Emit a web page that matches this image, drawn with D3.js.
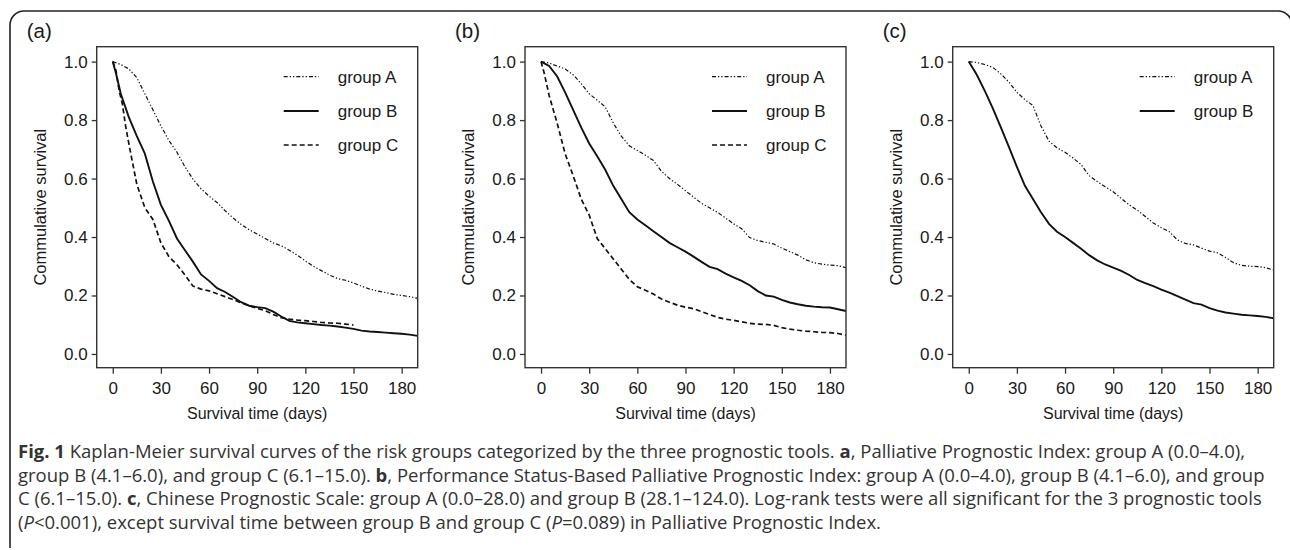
<!DOCTYPE html>
<html>
<head>
<meta charset="utf-8">
<script src="https://cdn.jsdelivr.net/npm/d3@7"></script>
<style>
  html, body { margin: 0; padding: 0; background: #fff; }
  svg { display: block; }
  .tick text { font-family: "Liberation Sans", Arial, sans-serif; font-size: 17px; fill: #1a1a1a; }
  .tick line { stroke: #333; stroke-width: 1.3; }
</style>
</head>
<body>
<div id="chart"></div>
<script>
'use strict';

// ---- data (time in days, cumulative survival) ----
const xTicks = [0, 30, 60, 90, 120, 150, 180];
const yTicks = [0.0, 0.2, 0.4, 0.6, 0.8, 1.0];
const panelLabels = ['(a)', '(b)', '(c)'];
const groupNames = ['group A', 'group B', 'group C'];

// panel (a) Palliative Prognostic Index
const aTimesA = [0, 5, 10, 15, 20, 25, 30, 35, 40, 45, 50, 55, 60, 65, 70, 75, 80, 85, 90, 95, 100, 105, 110, 115, 120, 125, 130, 135, 140, 145, 150, 155, 160, 165, 170, 175, 180, 185, 190];
const aSurvA = [1.0, 0.99, 0.975, 0.945, 0.89, 0.835, 0.78, 0.73, 0.69, 0.64, 0.598, 0.565, 0.54, 0.518, 0.49, 0.465, 0.443, 0.425, 0.41, 0.395, 0.38, 0.37, 0.355, 0.338, 0.318, 0.3, 0.285, 0.27, 0.258, 0.252, 0.243, 0.232, 0.222, 0.215, 0.21, 0.204, 0.2, 0.196, 0.19];
const aTimesB = [0, 2, 5, 10, 15, 20, 25, 30, 35, 40, 45, 50, 55, 60, 65, 70, 75, 80, 85, 90, 95, 100, 105, 110, 115, 120, 125, 130, 135, 140, 145, 150, 155, 160, 165, 170, 175, 180, 185, 190];
const aSurvB = [1.0, 0.96, 0.89, 0.81, 0.745, 0.685, 0.59, 0.51, 0.455, 0.395, 0.355, 0.315, 0.272, 0.25, 0.225, 0.212, 0.195, 0.177, 0.165, 0.16, 0.157, 0.145, 0.128, 0.113, 0.108, 0.105, 0.102, 0.099, 0.097, 0.094, 0.09, 0.086, 0.08, 0.077, 0.075, 0.073, 0.071, 0.069, 0.066, 0.062];
const aTimesC = [0, 2, 4, 6, 8, 10, 15, 20, 25, 30, 35, 40, 45, 50, 55, 60, 65, 70, 75, 80, 85, 90, 95, 100, 105, 110, 115, 120, 125, 130, 135, 140, 145, 150];
const aSurvC = [1.0, 0.97, 0.9, 0.855, 0.78, 0.72, 0.58, 0.5, 0.46, 0.38, 0.333, 0.305, 0.27, 0.232, 0.222, 0.216, 0.206, 0.196, 0.186, 0.175, 0.165, 0.156, 0.148, 0.135, 0.124, 0.119, 0.116, 0.114, 0.111, 0.108, 0.106, 0.105, 0.102, 0.099];

// panel (b) Performance Status-Based Palliative Prognostic Index
const bTimesA = [0, 5, 10, 15, 20, 25, 30, 35, 40, 45, 50, 55, 60, 65, 70, 75, 80, 85, 90, 95, 100, 105, 110, 115, 120, 125, 130, 135, 140, 145, 150, 155, 160, 165, 170, 175, 180, 185, 190];
const bSurvA = [1.0, 0.995, 0.985, 0.975, 0.955, 0.925, 0.89, 0.868, 0.845, 0.79, 0.745, 0.712, 0.696, 0.68, 0.662, 0.625, 0.6, 0.58, 0.558, 0.537, 0.515, 0.5, 0.484, 0.465, 0.445, 0.428, 0.398, 0.388, 0.382, 0.376, 0.362, 0.35, 0.338, 0.322, 0.312, 0.307, 0.304, 0.302, 0.295];
const bTimesB = [0, 5, 10, 15, 20, 25, 30, 35, 40, 45, 50, 55, 60, 65, 70, 75, 80, 85, 90, 95, 100, 105, 110, 115, 120, 125, 130, 135, 140, 145, 150, 155, 160, 165, 170, 175, 180, 185, 190];
const bSurvB = [1.0, 0.985, 0.95, 0.895, 0.835, 0.775, 0.72, 0.676, 0.63, 0.575, 0.53, 0.485, 0.46, 0.44, 0.42, 0.4, 0.38, 0.365, 0.35, 0.333, 0.315, 0.298, 0.29, 0.275, 0.262, 0.25, 0.235, 0.215, 0.2, 0.196, 0.185, 0.176, 0.17, 0.165, 0.162, 0.16, 0.159, 0.153, 0.147];
const bTimesC = [0, 2, 5, 10, 15, 20, 25, 30, 35, 40, 45, 50, 55, 60, 65, 70, 75, 80, 85, 90, 95, 100, 105, 110, 115, 120, 125, 130, 135, 140, 145, 150, 155, 160, 165, 170, 175, 180, 185, 190];
const bSurvC = [1.0, 0.96, 0.885, 0.79, 0.685, 0.61, 0.53, 0.475, 0.395, 0.36, 0.325, 0.29, 0.255, 0.23, 0.218, 0.205, 0.188, 0.177, 0.167, 0.16, 0.155, 0.145, 0.135, 0.125, 0.119, 0.115, 0.11, 0.105, 0.102, 0.101, 0.098, 0.09, 0.085, 0.081, 0.078, 0.076, 0.074, 0.073, 0.07, 0.064];

// panel (c) Chinese Prognostic Scale
const cTimesA = [0, 5, 10, 15, 20, 25, 30, 35, 40, 45, 50, 55, 60, 65, 70, 75, 80, 85, 90, 95, 100, 105, 110, 115, 120, 125, 130, 135, 140, 145, 150, 155, 160, 165, 170, 175, 180, 185, 190];
const cSurvA = [1.0, 0.997, 0.99, 0.98, 0.958, 0.93, 0.895, 0.87, 0.85, 0.78, 0.728, 0.705, 0.69, 0.67, 0.648, 0.61, 0.59, 0.572, 0.555, 0.532, 0.51, 0.492, 0.47, 0.448, 0.432, 0.418, 0.39, 0.378, 0.373, 0.362, 0.352, 0.346, 0.33, 0.312, 0.303, 0.3, 0.299, 0.295, 0.287];
const cTimesB = [0, 5, 10, 15, 20, 25, 30, 35, 40, 45, 50, 55, 60, 65, 70, 75, 80, 85, 90, 95, 100, 105, 110, 115, 120, 125, 130, 135, 140, 145, 150, 155, 160, 165, 170, 175, 180, 185, 190];
const cSurvB = [1.0, 0.955, 0.9, 0.84, 0.775, 0.708, 0.64, 0.575, 0.53, 0.485, 0.445, 0.418, 0.4, 0.38, 0.36, 0.338, 0.32, 0.306, 0.295, 0.284, 0.27, 0.253, 0.242, 0.232, 0.22, 0.21, 0.198, 0.186, 0.174, 0.169, 0.157, 0.148, 0.142, 0.138, 0.134, 0.132, 0.13, 0.127, 0.122];

const captionLines = [
    [{t: 'Fig. 1', b: true}, {t: ' Kaplan-Meier survival curves of the risk groups categorized by the three prognostic tools. '}, {t: 'a', b: true}, {t: ', Palliative Prognostic Index: group A (0.0\u20134.0),'}],
    [{t: 'group B (4.1\u20136.0), and group C (6.1\u201315.0). '}, {t: 'b', b: true}, {t: ', Performance Status-Based Palliative Prognostic Index: group A (0.0\u20134.0), group B (4.1\u20136.0), and group'}],
    [{t: 'C (6.1\u201315.0). '}, {t: 'c', b: true}, {t: ', Chinese Prognostic Scale: group A (0.0\u201328.0) and group B (28.1\u2013124.0). Log-rank tests were all significant for the 3 prognostic tools'}],
    [{t: '('}, {t: 'P', i: true}, {t: '<0.001), except survival time between group B and group C ('}, {t: 'P', i: true}, {t: '=0.089) in Palliative Prognostic Index.'}]
];

const panels = [
    {label: panelLabels[0], series: [[aTimesA, aSurvA], [aTimesB, aSurvB], [aTimesC, aSurvC]]},
    {label: panelLabels[1], series: [[bTimesA, bSurvA], [bTimesB, bSurvB], [bTimesC, bSurvC]]},
    {label: panelLabels[2], series: [[cTimesA, cSurvA], [cTimesB, cSurvB]]}
];

// line styles per group
const styles = [
    {dash: '4,2,1.3,2,1.3,2', width: 1.2},
    {dash: null, width: 1.9},
    {dash: '5,3', width: 1.7}
];

const W = 1290, H = 550;
const svg = d3.select('#chart').append('svg')
    .attr('width', W)
    .attr('height', H);

// outer rounded frame (open at the bottom)
svg.append('path')
    .attr('d', 'M10,548 V25 A14,14 0 0 1 24,11 H1278 A14,14 0 0 1 1292,25')
    .attr('fill', 'none')
    .attr('stroke', '#222')
    .attr('stroke-width', 1.6);

const plotW = 321, plotTop = 46.7, plotBottom = 367.7;
const panelLeft = [96.7, 525, 952.7];
const font = '"Liberation Sans", Arial, sans-serif';

panels.forEach((p, i) => {
    const left = panelLeft[i];
    const x = d3.scaleLinear().domain([-10, 190]).range([left, left + plotW]);
    const y = d3.scaleLinear().domain([-0.047, 1.051]).range([plotBottom, plotTop]);

    // axes
    svg.append('g')
        .attr('transform', `translate(0,${plotBottom})`)
        .call(d3.axisBottom(x).tickValues(xTicks).tickSize(6).tickPadding(8))
        .call(g => g.select('.domain').remove());

    svg.append('g')
        .attr('transform', `translate(${left},0)`)
        .call(d3.axisLeft(y).tickValues(yTicks).tickFormat(d3.format('.1f')).tickSize(5).tickPadding(4))
        .call(g => g.select('.domain').remove());

    // curves
    const line = d3.line()
        .x(d => x(d[0]))
        .y(d => y(d[1]));

    p.series.forEach(([times, surv], k) => {
        const pts = times.map((t, j) => [t, surv[j]]);
        svg.append('path')
            .datum(pts)
            .attr('fill', 'none')
            .attr('stroke', '#111')
            .attr('stroke-width', styles[k].width)
            .attr('stroke-dasharray', styles[k].dash)
            .attr('d', line);
    });

    // plot frame
    svg.append('rect')
        .attr('x', left)
        .attr('y', plotTop)
        .attr('width', plotW)
        .attr('height', plotBottom - plotTop)
        .attr('fill', 'none')
        .attr('stroke', '#333')
        .attr('stroke-width', 1.4);

    // legend
    const legendY = [76.7, 111, 145];
    p.series.forEach((s, k) => {
        svg.append('line')
            .attr('x1', left + 187)
            .attr('x2', left + 222)
            .attr('y1', legendY[k])
            .attr('y2', legendY[k])
            .attr('stroke', '#111')
            .attr('stroke-width', styles[k].width)
            .attr('stroke-dasharray', styles[k].dash);
        svg.append('text')
            .attr('x', left + 241)
            .attr('y', legendY[k] + 6)
            .attr('font-family', font)
            .attr('font-size', 17)
            .attr('fill', '#1a1a1a')
            .text(groupNames[k]);
    });

    // panel label
    svg.append('text')
        .attr('x', left - 70)
        .attr('y', 38)
        .attr('font-family', font)
        .attr('font-size', 20.5)
        .attr('fill', '#1a1a1a')
        .text(p.label);

    // axis titles
    svg.append('text')
        .attr('x', left + plotW / 2)
        .attr('y', 419)
        .attr('text-anchor', 'middle')
        .attr('font-family', font)
        .attr('font-size', 16)
        .attr('fill', '#1a1a1a')
        .text('Survival time (days)');

    svg.append('text')
        .attr('transform', `translate(${left - 51},${(plotTop + plotBottom) / 2}) rotate(-90)`)
        .attr('text-anchor', 'middle')
        .attr('font-family', font)
        .attr('font-size', 16.5)
        .attr('fill', '#1a1a1a')
        .text('Commulative survival');
});

// caption
const capFont = '"Open Sans", "Noto Sans", sans-serif';
const capY = [458, 481.5, 505, 528.5];
const capTexts = captionLines.map((parts, li) => {
    const text = svg.append('text')
        .attr('x', 18)
        .attr('y', capY[li])
        .attr('font-family', capFont)
        .attr('fill', '#333');
    parts.forEach(part => {
        text.append('tspan')
            .attr('font-weight', part.b ? 'bold' : null)
            .attr('font-style', part.i ? 'italic' : null)
            .text(part.t);
    });
    return text;
});

// size the caption so that its long lines span about the figure's width
capTexts.forEach(t => t.attr('font-size', 16));
const capSize = 16 * 1244 / capTexts[2].node().getComputedTextLength();
capTexts.forEach(t => t.attr('font-size', capSize));
</script>
</body>
</html>
